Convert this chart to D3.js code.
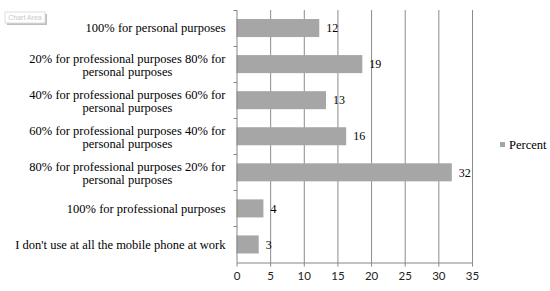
<!DOCTYPE html>
<html>
<head>
<meta charset="utf-8">
<script src="https://cdn.jsdelivr.net/npm/d3@7"></script>
<style>
  body { margin: 0; background: #fff; }
  svg { display: block; }
</style>
</head>
<body>
<svg id="chart" width="550" height="291"></svg>
<script>
// categories top to bottom, values in percent
var categories = [
  "100% for personal purposes",
  "20% for professional purposes 80% for personal purposes",
  "40% for professional purposes 60% for personal purposes",
  "60% for professional purposes 40% for personal purposes",
  "80% for professional purposes 20% for personal purposes",
  "100% for professional purposes",
  "I don't use at all the mobile phone at work"
];
var percent = [12.3, 18.7, 13.3, 16.3, 32.0, 4.0, 3.3];
var ticks = [0, 5, 10, 15, 20, 25, 30, 35];
var seriesName = "Percent";

var margin = { top: 10, right: 78, bottom: 28.5, left: 236.5 };
var width = 550 - margin.left - margin.right;
var height = 291 - margin.top - margin.bottom;

var svg = d3.select("#chart");
var g = svg.append("g")
    .attr("transform", "translate(" + margin.left + "," + margin.top + ")");

var x = d3.scaleLinear().domain([0, 35]).range([0, width]);
var y = d3.scaleBand().domain(categories).range([0, height]).paddingInner(0.5).paddingOuter(0.25);
var band = d3.scaleBand().domain(categories).range([0, height]);

// vertical gridlines
g.selectAll(".grid")
    .data(ticks.slice(1))
    .enter()
    .append("line")
    .attr("class", "grid")
    .attr("x1", function(d) { return x(d) + 0.5; })
    .attr("x2", function(d) { return x(d) + 0.5; })
    .attr("y1", 0)
    .attr("y2", height)
    .attr("stroke", "#8c8c8c")
    .attr("stroke-width", 1);

// bars
g.selectAll(".bar")
    .data(categories)
    .enter()
    .append("rect")
    .attr("class", "bar")
    .attr("x", 0)
    .attr("y", function(d) { return y(d); })
    .attr("width", function(d, i) { return x(percent[i]); })
    .attr("height", y.bandwidth())
    .attr("fill", "#a6a6a6");

// value labels
g.selectAll(".val")
    .data(categories)
    .enter()
    .append("text")
    .attr("class", "val")
    .attr("x", function(d, i) { return x(percent[i]) + 7; })
    .attr("y", function(d) { return y(d) + y.bandwidth() / 2; })
    .attr("dy", "0.35em")
    .style("font-family", "'Liberation Serif', serif")
    .style("font-size", "12px")
    .attr("fill", "#000")
    .text(function(d, i) { return Math.round(percent[i]); });

// bottom axis
var xAxis = g.append("g")
    .attr("transform", "translate(0," + height + ")")
    .call(d3.axisBottom(x).tickValues(ticks).tickSize(4).tickSizeOuter(0).tickPadding(5));
xAxis.select(".domain").attr("stroke", "#868686");
xAxis.selectAll(".tick line").attr("stroke", "#868686");
xAxis.selectAll("text")
    .style("font-family", "Lato, 'Liberation Sans', sans-serif")
    .style("font-size", "11.5px")
    .attr("fill", "#222");

// left axis with ticks at band boundaries
var yAxis = g.append("g");
yAxis.append("line")
    .attr("x1", 0.5).attr("x2", 0.5)
    .attr("y1", 0).attr("y2", height)
    .attr("stroke", "#868686");
yAxis.selectAll(".ytick")
    .data(categories)
    .enter()
    .append("line")
    .attr("class", "ytick")
    .attr("x1", -3).attr("x2", 0.5)
    .attr("y1", function(d) { return Math.round(band(d)) + 0.5; })
    .attr("y2", function(d) { return Math.round(band(d)) + 0.5; })
    .attr("stroke", "#868686");

// category labels, wrapped and centred, block right-aligned
var labelRight = -11;
var wrapWidth = 212;
var lineHeight = 12.5;
categories.forEach(function(cat) {
    var t = g.append("text")
        .style("font-family", "'Liberation Serif', serif")
        .style("font-size", "12.5px")
        .attr("fill", "#000")
        .attr("text-anchor", "middle");
    var words = cat.split(" ");
    var lines = [];
    var line = [];
    var probe = t.append("tspan");
    words.forEach(function(w) {
        line.push(w);
        probe.text(line.join(" "));
        if (probe.node().getComputedTextLength() > wrapWidth && line.length > 1) {
            line.pop();
            lines.push(line.join(" "));
            line = [w];
        }
    });
    lines.push(line.join(" "));
    probe.remove();
    var maxW = 0;
    lines.forEach(function(l) {
        probe = t.append("tspan").text(l);
        maxW = Math.max(maxW, probe.node().getComputedTextLength());
        probe.remove();
    });
    var cx = labelRight - maxW / 2;
    var cy = band(cat) + band.bandwidth() / 2 - (lines.length - 1) * lineHeight / 2 + (lines.length - 1);
    lines.forEach(function(l, i) {
        t.append("tspan")
            .attr("x", cx)
            .attr("y", cy + i * lineHeight)
            .attr("dy", "0.35em")
            .text(l);
    });
});

// legend
var legend = svg.append("g").attr("transform", "translate(500,142)");
legend.append("rect")
    .attr("width", 5).attr("height", 5)
    .attr("fill", "#a6a6a6");
legend.append("text")
    .attr("x", 9).attr("y", 2.5)
    .attr("dy", "0.35em")
    .style("font-family", "'Liberation Serif', serif")
    .style("font-size", "12.5px")
    .attr("fill", "#000")
    .text(seriesName);

// "Chart Area" hover tag
var tag = svg.append("g").attr("transform", "translate(5,12)");
tag.append("rect")
    .attr("x", 2).attr("y", 2).attr("width", 40).attr("height", 11)
    .attr("fill", "#bdbdbd");
tag.append("rect")
    .attr("width", 40).attr("height", 11)
    .attr("fill", "#fff").attr("stroke", "#ddd");
tag.append("text")
    .attr("x", 20).attr("y", 5.5).attr("dy", "0.35em")
    .attr("text-anchor", "middle")
    .style("font-family", "'Liberation Sans', sans-serif")
    .style("font-size", "7px")
    .attr("fill", "#c8c8c8")
    .text("Chart Area");
</script>
</body>
</html>
